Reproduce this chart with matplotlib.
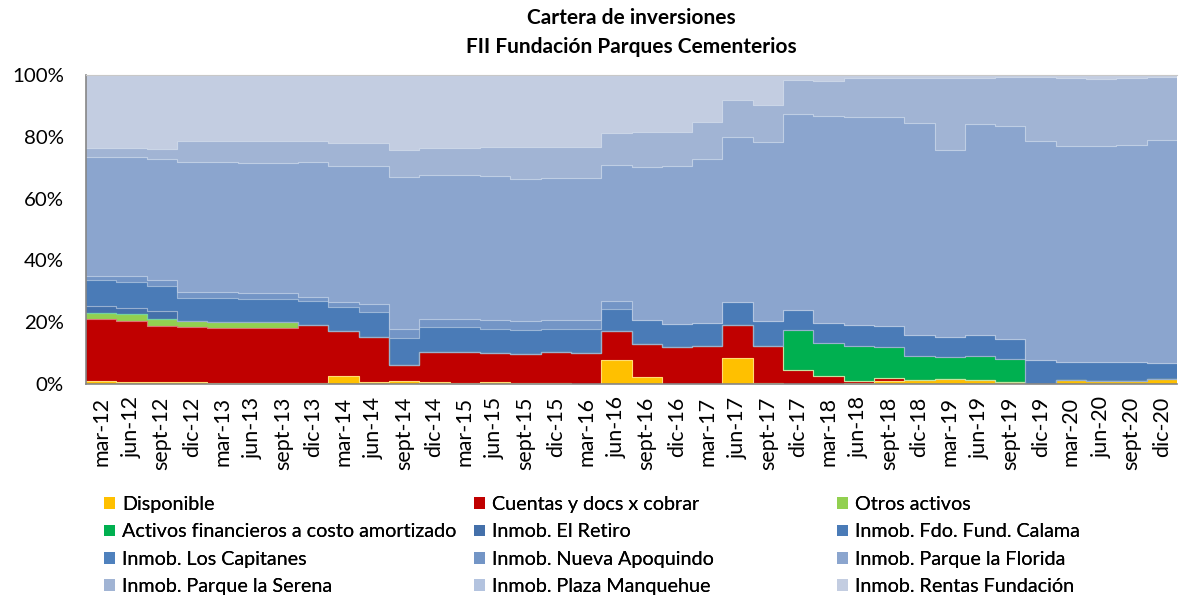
import numpy as np
import matplotlib
matplotlib.use("Agg")
import matplotlib.pyplot as plt
from matplotlib.patches import Patch
from matplotlib.colors import to_rgb

plt.rcParams['font.family'] = ['Lato', 'DejaVu Sans']

# quarters mar-12 .. dic-20
quarters = []
for yy in range(12, 21):
    for m in ['mar', 'jun', 'sept', 'dic']:
        quarters.append(f'{m}-{yy}')

# % of portfolio per quarter
disponible = [1.0, 0.8, 0.5, 0.5, 0.2, 0.4, 0.4, 0.4, 2.7, 0.6, 0.9, 0.5, 0.4, 0.8, 0.3, 0.2, 0.1, 7.8,
              2.4, 0.0, 0.0, 8.4, 0.3, 0.0, 0.0, 0.3, 1.1, 1.3, 1.6, 1.3, 0.6, 0.0, 1.2, 1.1, 0.9, 1.6]
cuentas = [20.0, 19.6, 18.3, 17.8, 17.9, 17.7, 17.7, 18.6, 14.3, 14.5, 5.3, 10.0, 10.1, 9.3, 9.3, 10.0, 9.8, 9.2,
           10.4, 12.1, 12.2, 10.8, 11.9, 4.6, 2.6, 0.7, 0.7, 0, 0, 0, 0, 0, 0, 0, 0, 0]
otros = [2.1, 2.1, 2.2, 2.1, 2.1, 2.1, 2.1] + [0] * 29
act_fin = [0] * 23 + [12.9, 10.7, 11.4, 10.1, 7.7, 7.0, 7.9, 7.4] + [0] * 5
el_retiro = [2.2, 2.1, 2.5] + [0] * 33
calama = [8.4, 8.4, 8.3, 7.4, 7.6, 7.3, 7.4, 7.7, 7.9, 8.1, 8.6, 7.8, 7.8, 7.6, 7.8, 7.5, 7.8, 7.2,
          8.0, 7.4, 7.6, 7.4, 8.1, 6.3, 6.6, 6.7, 6.8, 6.9, 6.5, 6.8, 6.5, 7.9, 6.0, 5.9, 6.1, 5.1]
capitanes = [0] * 36
nueva_apoquindo = [1.3, 2.0, 1.7, 2.1, 2.0, 1.9, 1.8, 1.6, 1.7, 2.7, 3.0, 2.8, 2.8, 2.9, 3.0, 3.1, 2.9, 2.6] + [0] * 18
florida = [38.5, 38.6, 39.4, 42.1, 42.1, 42.2, 42.2, 43.5, 44.1, 44.5, 49.1, 46.6, 46.6, 46.6, 46.1, 45.9, 46.2, 44.1,
           49.4, 50.9, 53.1, 53.2, 57.9, 63.7, 66.9, 67.4, 67.7, 68.6, 60.7, 68.2, 68.9, 70.8, 69.7, 70.1, 70.5, 72.3]
serena = [2.8, 2.7, 3.2, 6.7, 6.6, 6.9, 7.0, 6.9, 7.4, 7.7, 8.9, 8.7, 8.7, 9.4, 10.1, 9.9, 9.8, 10.2,
          11.4, 11.2, 11.9, 12.0, 12.2, 11.0, 11.3, 12.5, 12.6, 14.5, 23.2, 14.8, 15.8, 20.8, 22.1, 21.7, 21.6, 20.4]
manquehue = [0] * 36
rentas = [23.7, 23.7, 23.9, 21.3, 21.5, 21.5, 21.4, 21.3, 21.9, 21.9, 24.2, 23.6, 23.6, 23.4, 23.4, 23.4, 23.4, 18.9,
          18.4, 18.4, 15.2, 8.2, 9.6, 1.5, 1.9, 1.0, 1.0, 1.0, 1.0, 1.0, 0.8, 0.5, 1.0, 1.2, 0.9, 0.6]

labels = ['Disponible', 'Cuentas y docs x cobrar', 'Otros activos',
          'Activos financieros a costo amortizado', 'Inmob. El Retiro', 'Inmob. Fdo. Fund. Calama',
          'Inmob. Los Capitanes', 'Inmob. Nueva Apoquindo', 'Inmob. Parque la Florida',
          'Inmob. Parque la Serena', 'Inmob. Plaza Manquehue', 'Inmob. Rentas Fundación']
series = [disponible, cuentas, otros, act_fin, el_retiro, calama, capitanes,
          nueva_apoquindo, florida, serena, manquehue, rentas]
colors = ['#FFC000', '#C00000', '#92D050', '#00B050', '#4470AA', '#4A7BB7', '#4F81BD',
          '#7395C6', '#8BA5CE', '#A1B4D4', '#B3C3DF', '#C3CDE1']


def lighter(c, f=0.45):
    r = np.array(to_rgb(c))
    return tuple(r + (1 - r) * f)


fig = plt.figure(figsize=(11.79, 5.97), dpi=100)
ax = fig.add_axes([86 / 1179, 1 - 384 / 597, (1177 - 86) / 1179, 309 / 597])

n = len(quarters)
edges = np.arange(n + 1)
bottom = np.zeros(n)
for vals, col in zip(series, colors):
    v = np.array(vals, dtype=float)
    top = bottom + v
    lo = np.append(bottom, bottom[-1])
    hi = np.append(top, top[-1])
    ax.fill_between(edges, lo / 100, hi / 100, step='post', color=col, linewidth=0)
    bottom = top

# thin lighter outlines on top of every band
bottom = np.zeros(n)
for vals, col in zip(series, colors):
    v = np.array(vals, dtype=float)
    top = bottom + v
    if v.sum() > 0:
        ax.step(edges, np.append(top, top[-1]) / 100, where='post', color=lighter(col), lw=0.8)
    bottom = top

ax.set_xlim(0, n)
ax.set_ylim(0, 1)
ax.set_yticks(np.arange(0, 1.01, 0.2))
ax.set_yticklabels([f'{int(round(t * 100))}%' for t in np.arange(0, 1.01, 0.2)], fontsize=14.7)
ax.set_xticks(np.arange(n) + 0.5)
ax.set_xticklabels(quarters, rotation=90, fontsize=15.5)
ax.tick_params(axis='both', length=0)
ax.tick_params(axis='y', pad=16)
ax.tick_params(axis='x', pad=9)
for s in ['left', 'bottom']:
    ax.spines[s].set_color('#868686')
    ax.spines[s].set_linewidth(1.2)
ax.spines['top'].set_color('#c8c8c8')
ax.spines['right'].set_visible(False)

fig.text(631 / 1179, 1 - 18 / 597, 'Cartera de inversiones', ha='center', va='center',
         fontsize=15, fontweight='bold')
fig.text(631 / 1179, 1 - 47 / 597, 'FII Fundación Parques Cementerios', ha='center', va='center',
         fontsize=15, fontweight='bold')

# legend: three columns placed like the original
col_x = [104, 474, 837]
for c in range(3):
    idx = [c, c + 3, c + 6, c + 9]
    handles = [Patch(facecolor=colors[i], edgecolor='none') for i in idx]
    leg = fig.legend(handles, [labels[i] for i in idx], loc='upper left',
                     bbox_to_anchor=(col_x[c] / 1179, 1 - 496 / 597), frameon=False,
                     fontsize=14.2, handlelength=0.55, handleheight=0.55, handletextpad=0.35,
                     labelspacing=0.53, borderaxespad=0, borderpad=0)
    fig.add_artist(leg)

fig.savefig('out.png', dpi=100)
